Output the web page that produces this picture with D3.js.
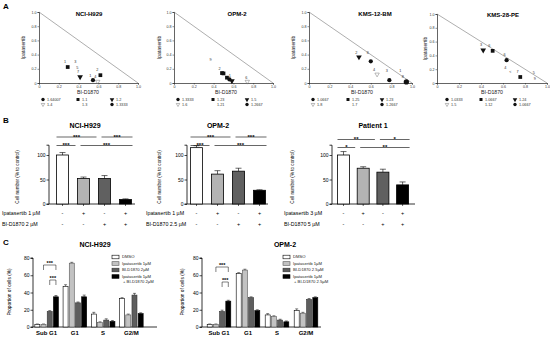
<!DOCTYPE html>
<html><head><meta charset="utf-8">
<script src="https://cdn.jsdelivr.net/npm/d3@7"></script>
<style>body{margin:0;background:#fff}svg{display:block;font-family:"Liberation Sans",Arial,sans-serif}</style>
</head><body><svg id="c" width="550" height="337"></svg>
<script>
// ---------------- DATA ----------------
// Panel A – isobolograms
const isoTitles = ["NCI-H929", "OPM-2", "KMS-12-BM", "KMS-28-PE"];
const isoTicks = [0, 0.2, 0.4, 0.6, 0.8, 1.0];
// [BI-D1870 fraction, ipatasertib fraction, marker, label]
const isoH929 = [[0.29,0.225,"s",""],[0.263,0.305,"","1"],[0.367,0.305,"","3"],[0.388,0.225,"","5"],[0.394,0.155,"","7"],
  [0.415,0.085,"t",""],[0.519,0.103,"","1"],[0.545,0.04,"c",""],[0.569,0.085,"","4"],[0.59,0.188,"","2"],[0.62,0.11,"s",""],[0.593,0.02,"o",""]];
const isoOPM2 = [[0.37,0.33,"","9"],[0.461,0.211,"","2"],[0.485,0.14,"s",""],[0.5,0.135,"s",""],[0.535,0.075,"s",""],
  [0.56,0.05,"c",""],[0.585,0.03,"t",""],[0.565,0.11,"","1"],[0.73,0.075,"","6"],[0.74,0.02,"o",""]];
const isoKMS12 = [[0.459,0.427,"","2"],[0.485,0.365,"t",""],[0.57,0.43,"","6"],[0.6,0.305,"c",""],[0.632,0.188,"","4"],
  [0.661,0.122,"o",""],[0.755,0.18,"","3"],[0.78,0.04,"c",""],[0.886,0.18,"","1"],[0.912,0.094,"","8"],[0.945,0.015,"c",""]];
const isoKMS28 = [[0.4,0.56,"","3"],[0.42,0.475,"t",""],[0.476,0.54,"","6"],[0.506,0.466,"s",""],[0.615,0.41,"","6"],
  [0.633,0.33,"c",""],[0.62,0.23,"","4"],[0.667,0.17,"","<"],[0.733,0.17,"","7"],[0.757,0.087,"s",""],[0.88,0.146,"","5"],[0.89,0.07,"","9"]];
const isoLegH929 = ["1.64007","1.1","1.2","1.4","1.3","1.3333"];
const isoLegOPM2 = ["1.3333","1.23","1.5","1.6","1.21","1.2667"];
const isoLegKMS12 = ["1.0667","1.25","1.23","1.8","1.7","1.2667"];
const isoLegKMS28 = ["1.0333","1.0667","1.24","1.5","1.12","1.0667"];
const isoLegMarks = ["c","s","t","o","","c"];

// Panel B – cell number bars
const bTitles = ["NCI-H929", "OPM-2", "Patient 1"];
const bH929 = [100, 52, 52, 9];
const bH929Err = [5, 3, 6, 1.5];
const bOPM2 = [115, 61, 67, 28];
const bOPM2Err = [4, 7, 6, 1];
const bPat1 = [100, 73, 65, 39];
const bPat1Err = [7, 3, 6, 6];
const bIpaSign = ["-", "+", "-", "+"];
const bBISign = ["-", "-", "+", "+"];
const bIpaLabels = ["Ipatasertib 1 µM", "Ipatasertib 1 µM", "Ipatasertib 3 µM"];
const bBILabels = ["BI-D1870 2 µM", "BI-D1870 2.5 µM", "BI-D1870 5 µM"];
const bTicks = [0, 50, 100];
// significance: [row1 bar0-bar2, row1 bar2-bar3, row2 bar0-bar1, row2 bar1-bar3]
const bSigH929 = ["***", "***", "***", "***"];
const bSigOPM2 = ["***", "***", "***", "***"];
const bSigPat1 = ["**", "*", "*", "**"];

// Panel C – cell cycle
const cPhases = ["Sub G1", "G1", "S", "G2/M"];
const cTicks = [0, 20, 40, 60, 80];
const cH929Dmso = [3, 47, 15, 33];
const cH929Ipa = [3, 74, 5, 14];
const cH929BI = [18, 28, 8, 37];
const cH929Combo = [35, 35, 6.5, 15.5];
const cH929Err = [[0.5,2,2,1],[0.5,1,1,1],[1,1,1.5,2],[1.5,2,1,1]];
const cOPM2Dmso = [3, 62, 14, 19];
const cOPM2Ipa = [3, 66, 12, 16];
const cOPM2BI = [18, 34, 8, 32];
const cOPM2Combo = [30, 19, 6, 34];
const cOPM2Err = [[0.5,1,1.5,2],[0.5,1,1,1],[1.5,1,1,1],[1,1,1,1]];
const cLegH929 = ["DMSO", "Ipatasertib 1µM", "BI-D1870 2µM", "Ipatasertib 1µM", "+ BI-D1870 2µM"];
const cLegOPM2 = ["DMSO", "Ipatasertib 1µM", "BI-D1870 2.5µM", "Ipatasertib 1µM", "+ BI-D1870 2.5µM"];

// ---------------- DRAW ----------------
const svg = d3.select("#c");
svg.append("rect").attr("width",550).attr("height",337).attr("fill","#fff");

function txt(g, x, y, s, size, opts = {}) {
  const t = g.append("text").attr("x", x).attr("y", y).text(s)
    .attr("font-size", size).attr("fill", opts.fill || "#000")
    .attr("text-anchor", opts.anchor || "start");
  if (opts.bold) t.attr("font-weight", "bold");
  if (opts.rot) t.attr("transform", `rotate(-90,${x},${y})`);
  return t;
}
function marker(g, m, x, y, size) {
  if (!m) return;
  let t = d3.symbolCircle, rot = 0, fill = "#111", stroke = "none";
  if (m === "s") t = d3.symbolSquare;
  if (m === "t") { t = d3.symbolTriangle; rot = 180; }
  if (m === "o") { t = d3.symbolTriangle; rot = 180; fill = "none"; stroke = "#777"; size = size * 0.6; }
  g.append("path").attr("d", d3.symbol().type(t).size(size)())
    .attr("transform", `translate(${x},${y}) rotate(${rot})`)
    .attr("fill", fill).attr("stroke", stroke).attr("stroke-width", 0.5);
}

// Panel letters
txt(svg, 3, 9, "A", 8, {bold:true});
txt(svg, 3, 123, "B", 8, {bold:true});
txt(svg, 3, 245, "C", 8, {bold:true});

// ----- Panel A -----
const isoLayout = [
  {x0:39, x1:138, yT:12, yB:83, tx:89, ty:16, ylx:25, xlx:88, xly:93.5, lx:[43,78,112]},
  {x0:174, x1:273, yT:12, yB:83, tx:237, ty:16, ylx:161, xlx:226, xly:93.5, lx:[178,213,247]},
  {x0:309, x1:412, yT:12, yB:83, tx:375, ty:16, ylx:295, xlx:362, xly:93.5, lx:[313,348,382]},
  {x0:437, x1:547, yT:14, yB:83, tx:503, ty:17, ylx:427, xlx:492, xly:94, lx:[447,481,515]}
];
const isoData = [isoH929, isoOPM2, isoKMS12, isoKMS28];
const isoLegs = [isoLegH929, isoLegOPM2, isoLegKMS12, isoLegKMS28];
isoLayout.forEach((L, i) => {
  const g = svg.append("g");
  const x = d3.scaleLinear().domain([0, 1]).range([L.x0, L.x1]);
  const y = d3.scaleLinear().domain([0, 1]).range([L.yB, L.yT]);
  g.append("line").attr("x1", x(0)).attr("y1", y(1)).attr("x2", x(1)).attr("y2", y(0))
    .attr("stroke", "#999").attr("stroke-width", 0.8);
  const fmt = d => d === 0 ? "0" : d.toFixed(1);
  const ax = g.append("g").attr("transform", `translate(0,${L.yB})`)
    .call(d3.axisBottom(x).tickValues(isoTicks).tickFormat(fmt).tickSize(1.5).tickPadding(0.5));
  const ay = g.append("g").attr("transform", `translate(${L.x0},0)`)
    .call(d3.axisLeft(y).tickValues(isoTicks).tickFormat(fmt).tickSize(1.5).tickPadding(1));
  [ax, ay].forEach(a => {
    a.selectAll("text").attr("font-size", 3.6).attr("fill", "#333").attr("font-family", null);
    a.selectAll("line").attr("stroke", "#222").attr("stroke-width", 0.5);
    a.select(".domain").attr("stroke", "#222").attr("stroke-width", 0.7);
  });
  txt(g, L.tx, L.ty, isoTitles[i], 6, {bold:true, anchor:"middle"});
  txt(g, L.ylx, (L.yT + L.yB) / 2, "Ipatasertib", 5, {anchor:"middle", rot:true, fill:"#222"});
  txt(g, L.xlx, L.xly, "BI-D1870", 5.2, {anchor:"middle", fill:"#222"});
  isoData[i].forEach(p => {
    if (p[2]) marker(g, p[2], x(p[0]), y(p[1]), i === 2 && p[0] > 0.9 ? 22 : 14);
    if (p[3]) txt(g, x(p[0]), y(p[1]) + 1.5, p[3], 3.8, {anchor:"middle", fill:"#333"});
  });
  isoLegs[i].forEach((s, k) => {
    const cx = L.lx[k % 3], cy = k < 3 ? 99.5 : 104.5;
    marker(g, isoLegMarks[k], cx, cy, 9);
    txt(g, cx + 4, cy + 1.4, s, 3.8, {fill:"#333"});
  });
});

// ----- Panel B -----
const bVals = [bH929, bOPM2, bPat1];
const bErrs = [bH929Err, bOPM2Err, bPat1Err];
const bSigs = [bSigH929, bSigOPM2, bSigPat1];
const bColors = ["#ffffff", "#b3b3b3", "#606060", "#000000"];
const bLayout = [
  {ax:49, c0:62.5, step:21, xEnd:135, tx:85, ylx:19, lblx:2, row1:137, row2:145.5},
  {ax:187, c0:196.5, step:21, xEnd:268, tx:218, ylx:161, lblx:146, row1:137, row2:145.5},
  {ax:332, c0:343.5, step:19.7, xEnd:415, tx:373, ylx:294, lblx:284, row1:139.5, row2:147.5}
];
const yB = d3.scaleLinear().domain([0, 120]).range([204, 145.2]);
bLayout.forEach((L, i) => {
  const g = svg.append("g");
  const xb = d3.scaleLinear().domain([0, 3]).range([L.c0, L.c0 + 3 * L.step]);
  const bw = 12;
  const ay = g.append("g").attr("transform", `translate(${L.ax},0)`)
    .call(d3.axisLeft(yB).tickValues(bTicks).tickSize(2.5).tickPadding(1));
  ay.selectAll("text").attr("font-size", 5).attr("font-family", null);
  ay.selectAll("line").attr("stroke-width", 0.7);
  ay.select(".domain").attr("stroke-width", 0.8).attr("d", `M-2.5,${yB(120)}H0V${yB(0)}H-2.5`);
  g.append("line").attr("x1", L.ax).attr("x2", L.xEnd).attr("y1", yB(0)).attr("y2", yB(0))
    .attr("stroke", "#000").attr("stroke-width", 0.8);
  bVals[i].forEach((v, k) => {
    const cx = xb(k);
    g.append("line").attr("x1", cx).attr("x2", cx).attr("y1", yB(0)).attr("y2", yB(0) + 2)
      .attr("stroke", "#000").attr("stroke-width", 0.6);
    const e = bErrs[i][k];
    g.append("line").attr("x1", cx).attr("x2", cx).attr("y1", yB(v)).attr("y2", yB(v + e))
      .attr("stroke", "#000").attr("stroke-width", 0.6);
    g.append("line").attr("x1", cx - 3).attr("x2", cx + 3).attr("y1", yB(v + e)).attr("y2", yB(v + e))
      .attr("stroke", "#000").attr("stroke-width", 0.6);
    g.append("rect").attr("x", cx - bw / 2).attr("y", yB(v)).attr("width", bw).attr("height", yB(0) - yB(v))
      .attr("fill", bColors[k]).attr("stroke", "#000").attr("stroke-width", 0.8);
    txt(g, cx, 214.5, bIpaSign[k], 5.5, {anchor:"middle"});
    txt(g, cx, 225.5, bBISign[k], 5.5, {anchor:"middle"});
  });
  txt(g, L.tx, 127.5, bTitles[i], 7, {bold:true, anchor:"middle"});
  txt(g, L.ylx, 177, "Cell number (% to control)", 4.6, {anchor:"middle", rot:true});
  txt(g, L.lblx, 214.5, bIpaLabels[i], 5.3);
  txt(g, L.lblx, 225.5, bBILabels[i], 5.3);
  const pairs = [[0,2,L.row1],[2,3,L.row1],[0,1,L.row2],[1,3,L.row2]];
  pairs.forEach(([a, b, ry], k) => {
    const s = a === 0 ? xb(0) - 6 : xb(a) - 3;
    const e = b === 3 ? xb(3) + 7 : xb(b) - 8;
    g.append("line").attr("x1", s).attr("x2", e).attr("y1", ry).attr("y2", ry)
      .attr("stroke", "#000").attr("stroke-width", 0.6);
    txt(g, (s + e) / 2, ry + 1.6, bSigs[i][k], 6, {anchor:"middle", bold:true});
  });
});

// ----- Panel C -----
const cColors = ["#ffffff", "#c2c2c2", "#5e5e5e", "#000000"];
const cStroke = ["#000", "#555", "#333", "#000"];
const cSeries = [[cH929Dmso, cH929Ipa, cH929BI, cH929Combo], [cOPM2Dmso, cOPM2Ipa, cOPM2BI, cOPM2Combo]];
const cErrs = [cH929Err, cOPM2Err];
const cLegs = [cLegH929, cLegOPM2];
const cTitles = ["NCI-H929", "OPM-2"];
const cLayout = [
  {ax:33, r0:32.5, r1:145.5, xEnd:157, tx:95, ylx:11, legx:112, b1y:265, b2y:280},
  {ax:202, r0:204.5, r1:320.5, xEnd:321, tx:285, ylx:184, legx:283, b1y:267, b2y:282}
];
const yC = d3.scaleLinear().domain([0, 80]).range([327, 258]);
cLayout.forEach((L, i) => {
  const g = svg.append("g");
  const xc = d3.scaleBand().domain(cPhases).range([L.r0, L.r1]);
  const off = [-9.3, -3.1, 3.1, 9.3];
  const bw = 5;
  const ay = g.append("g").attr("transform", `translate(${L.ax},0)`)
    .call(d3.axisLeft(yC).tickValues(cTicks).tickSize(2.5).tickPadding(1));
  ay.selectAll("text").attr("font-size", 5).attr("font-family", null);
  ay.selectAll("line").attr("stroke-width", 0.7);
  ay.select(".domain").attr("stroke-width", 0.8).attr("d", `M-2.5,${yC(80)}H0V${yC(0)}H-2.5`);
  g.append("line").attr("x1", L.ax).attr("x2", L.xEnd).attr("y1", yC(0)).attr("y2", yC(0))
    .attr("stroke", "#000").attr("stroke-width", 0.8);
  cPhases.forEach((p, j) => {
    const gc = xc(p) + xc.bandwidth() / 2;
    cSeries[i].forEach((ser, k) => {
      const v = ser[j], e = cErrs[i][k][j], cx = gc + off[k];
      g.append("line").attr("x1", cx).attr("x2", cx).attr("y1", yC(v)).attr("y2", yC(v + e))
        .attr("stroke", "#000").attr("stroke-width", 0.5);
      g.append("line").attr("x1", cx - 1.5).attr("x2", cx + 1.5).attr("y1", yC(v + e)).attr("y2", yC(v + e))
        .attr("stroke", "#000").attr("stroke-width", 0.5);
      g.append("rect").attr("x", cx - bw / 2).attr("y", yC(v)).attr("width", bw).attr("height", yC(0) - yC(v))
        .attr("fill", cColors[k]).attr("stroke", cStroke[k]).attr("stroke-width", 0.6);
    });
    txt(g, gc, 334.5, p, 6, {bold:true, anchor:"middle"});
  });
  txt(g, L.tx, 246.5, cTitles[i], 7, {bold:true, anchor:"middle"});
  txt(g, L.ylx, 292, "Proportion of cells (%)", 4.8, {anchor:"middle", rot:true});
  const g0 = xc(cPhases[0]) + xc.bandwidth() / 2;
  [[1, 3, L.b1y], [2, 3, L.b2y]].forEach(([a, b, by]) => {
    const xa = g0 + off[a], xbb = g0 + off[b];
    g.append("path").attr("d", `M${xa},${by + 5}V${by}H${xbb}V${by + 5}`)
      .attr("fill", "none").attr("stroke", "#000").attr("stroke-width", 0.5);
    txt(g, (xa + xbb) / 2, by + 0.3, "***", 5.5, {bold:true, anchor:"middle"});
  });
  const legY = [257, 263.5, 270, 276.5];
  legY.forEach((ly, k) => {
    g.append("rect").attr("x", L.legx).attr("y", ly - 1.8).attr("width", 7).attr("height", 3.6)
      .attr("fill", cColors[k]).attr("stroke", cStroke[k]).attr("stroke-width", 0.6);
    txt(g, L.legx + 10, ly + 1.4, cLegs[i][k], 4.2, {fill:"#222"});
  });
  txt(g, L.legx + 11, 282.5, cLegs[i][4], 4.2, {fill:"#222"});
});
</script></body></html>
